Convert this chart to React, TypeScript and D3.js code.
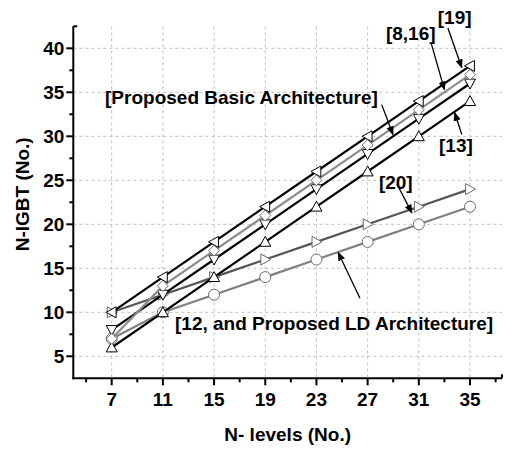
import React from 'react';
import * as d3 from 'd3';

// N-levels on the x axis
const levels = [7, 11, 15, 19, 23, 27, 31, 35];

// N-IGBT counts per topology
const ref19 = [10, 14, 18, 22, 26, 30, 34, 38];
const proposedBasic = [7, 13, 17, 21, 25, 29, 33, 37];
const ref8_16 = [8, 12, 16, 20, 24, 28, 32, 36];
const ref13 = [6, 10, 14, 18, 22, 26, 30, 34];
const ref20 = [10, 12, 14, 16, 18, 20, 22, 24];
const ref12LD = [7, 10, 12, 14, 16, 18, 20, 22];

const xTicks = [7, 11, 15, 19, 23, 27, 31, 35];
const xMinor = [5, 9, 13, 17, 21, 25, 29, 33, 37];
const yTicks = [5, 10, 15, 20, 25, 30, 35, 40];
const yMinor = [7.5, 12.5, 17.5, 22.5, 27.5, 32.5, 37.5];

const W = 506;
const H = 452;
const FONT = "'Liberation Sans', Arial, sans-serif";

export default function App() {
  const x = d3.scaleLinear().domain([4, 37.5]).range([73.3, 502]);
  const y = d3.scaleLinear().domain([2.5, 42.5]).range([378.3, 26.3]);

  const series = [
    { name: '[12 LD]', values: ref12LD, color: '#808080', marker: 'circle' },
    { name: '[20]', values: ref20, color: '#555555', marker: 'right' },
    { name: '[13]', values: ref13, color: '#000000', marker: 'up' },
    { name: '[8,16]', values: ref8_16, color: '#000000', marker: 'down' },
    { name: 'basic', values: proposedBasic, color: '#8c8c8c', marker: 'diamond' },
    { name: '[19]', values: ref19, color: '#000000', marker: 'left' },
  ];

  const line = d3
    .line<[number, number]>()
    .x((d) => x(d[0]))
    .y((d) => y(d[1]));

  const markerPath = (kind: string, cx: number, cy: number) => {
    const r = 5.5;
    if (kind === 'up') return `M${cx},${cy - r}L${cx + r},${cy + r * 0.8}L${cx - r},${cy + r * 0.8}Z`;
    if (kind === 'down') return `M${cx},${cy + r}L${cx + r},${cy - r * 0.8}L${cx - r},${cy - r * 0.8}Z`;
    if (kind === 'left') return `M${cx - r},${cy}L${cx + r * 0.8},${cy - r}L${cx + r * 0.8},${cy + r}Z`;
    if (kind === 'right') return `M${cx + r},${cy}L${cx - r * 0.8},${cy - r}L${cx - r * 0.8},${cy + r}Z`;
    if (kind === 'diamond') return `M${cx},${cy - r}L${cx + r},${cy}L${cx},${cy + r}L${cx - r},${cy}Z`;
    return '';
  };

  // annotation labels and arrows, in data units
  const labels = [
    { text: '[19]', x: 33.8, y: 42.76, anchor: 'middle', from: [33.27, 42.3], to: [34.36, 37.8] },
    { text: '[8,16]', x: 30.37, y: 40.94, anchor: 'middle', from: [31.98, 40.5], to: [33.0, 35.3] },
    { text: '[Proposed Basic Architecture]', x: 6.48, y: 33.68, anchor: 'start', from: [28.1, 33.6], to: [28.98, 30.2] },
    { text: '[13]', x: 33.9, y: 28.2, anchor: 'middle', from: [34.36, 30.2], to: [33.8, 32.7] },
    { text: '[20]', x: 29.2, y: 24.0, anchor: 'middle', from: [29.28, 24.6], to: [30.46, 21.3] },
    { text: '[12, and Proposed LD Architecture]', x: 11.95, y: 8.0, anchor: 'start', from: [26.4, 11.6], to: [24.7, 16.8] },
  ];

  const x0 = x.range()[0];
  const y0 = y.range()[0];

  return (
    <svg
      width={W}
      height={H}
      style={{ position: 'absolute', left: 0, top: 0, background: '#fff' }}
      fontFamily={FONT}
    >
      <defs>
        <marker id="arrow" viewBox="0 0 10 10" refX="9" refY="5" markerWidth="7" markerHeight="7" orient="auto">
          <path d="M0,1L10,5L0,9Z" fill="#000" />
        </marker>
      </defs>
      <rect width={W} height={H} fill="#fff" />

      {/* grid */}
      <g stroke="#c0c0c0" strokeWidth={1} strokeDasharray="3,3">
        {xTicks.map((t) => (
          <line key={'gx' + t} x1={x(t)} x2={x(t)} y1={y.range()[1]} y2={y0} />
        ))}
        {yTicks.map((t) => (
          <line key={'gy' + t} x1={x0} x2={x.range()[1]} y1={y(t)} y2={y(t)} />
        ))}
      </g>

      {/* series */}
      {series.map((s) => {
        const pts = levels.map((l, i) => [l, s.values[i]] as [number, number]);
        const edge = s.color === '#000000' ? '#000' : '#6a6a6a';
        return (
          <g key={s.name}>
            <path d={line(pts) || ''} fill="none" stroke={s.color} strokeWidth={2.2} />
            {pts.map((p, i) =>
              s.marker === 'circle' ? (
                <circle key={i} cx={x(p[0])} cy={y(p[1])} r={5.5} fill="#fff" stroke={edge} strokeWidth={1} />
              ) : (
                <path key={i} d={markerPath(s.marker, x(p[0]), y(p[1]))} fill="#fff" stroke={edge} strokeWidth={1} />
              )
            )}
          </g>
        );
      })}

      {/* axes */}
      <g stroke="#000" strokeWidth={2}>
        <line x1={x0} x2={x0} y1={y.range()[1]} y2={y0 + 1} />
        <line x1={x0 - 1} x2={x.range()[1]} y1={y0} y2={y0} />
        <line x1={x0} x2={x0 + 4} y1={y.range()[1]} y2={y.range()[1]} />
        <line x1={x.range()[1]} x2={x.range()[1]} y1={y0} y2={y0 - 4} />
        {yTicks.map((t) => (
          <line key={'ty' + t} x1={x0 - 7} x2={x0} y1={y(t)} y2={y(t)} />
        ))}
        {yMinor.map((t) => (
          <line key={'my' + t} x1={x0 - 4} x2={x0} y1={y(t)} y2={y(t)} />
        ))}
        {xTicks.map((t) => (
          <line key={'tx' + t} x1={x(t)} x2={x(t)} y1={y0} y2={y0 + 7} />
        ))}
        {xMinor.map((t) => (
          <line key={'mx' + t} x1={x(t)} x2={x(t)} y1={y0} y2={y0 + 4} />
        ))}
      </g>

      <g fontSize={19} fontWeight="bold" fill="#000">
        {yTicks.map((t) => (
          <text key={'ly' + t} x={x0 - 9} y={y(t)} dy="0.36em" textAnchor="end">
            {t}
          </text>
        ))}
        {xTicks.map((t) => (
          <text key={'lx' + t} x={x(t)} y={y0 + 28} textAnchor="middle">
            {t}
          </text>
        ))}
        <text x={(x0 + x.range()[1]) / 2} y={441} textAnchor="middle">
          N- levels (No.)
        </text>
        <text transform={`translate(29,${(y0 + y.range()[1]) / 2 - 8}) rotate(-90)`} textAnchor="middle">
          N-IGBT (No.)
        </text>
      </g>

      {/* annotations */}
      <g fontSize={19} fontWeight="bold" fill="#000">
        {labels.map((a) => (
          <g key={a.text}>
            <text x={x(a.x)} y={y(a.y)} textAnchor={a.anchor as any}>
              {a.text}
            </text>
            <line
              x1={x(a.from[0])}
              y1={y(a.from[1])}
              x2={x(a.to[0])}
              y2={y(a.to[1])}
              stroke="#000"
              strokeWidth={1.3}
              markerEnd="url(#arrow)"
            />
          </g>
        ))}
      </g>
    </svg>
  );
}
